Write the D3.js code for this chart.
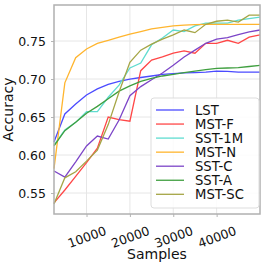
<!DOCTYPE html>
<html>
<head>
<meta charset="utf-8">
<script src="https://cdn.jsdelivr.net/npm/d3@7"></script>
<style>
body { margin: 0; background: #fff; }
text { font-family: "DejaVu Sans", sans-serif; }
</style>
</head>
<body>
<div id="chart"></div>
<script>
// data
var samples = [2500, 5000, 7500, 10000, 12500, 15000, 17500, 20000, 22500, 25000,
               27500, 30000, 32500, 35000, 37500, 40000, 42500, 45000, 47500, 50000];
var seriesNames = ["LST", "MST-F", "SST-1M", "MST-N", "SST-C", "SST-A", "MST-SC"];
var lst   = [0.617, 0.654, 0.667, 0.679, 0.687, 0.693, 0.697, 0.700, 0.702, 0.704, 0.706, 0.707, 0.708, 0.7085, 0.709, 0.7105, 0.710, 0.709, 0.709, 0.709];
var mstF  = [0.537, 0.554, 0.572, 0.590, 0.609, 0.650, 0.6465, 0.6445, 0.711, 0.725, 0.729, 0.734, 0.737, 0.734, 0.747, 0.747, 0.751, 0.747, 0.755, 0.758];
var sst1M = [0.613, 0.633, 0.643, 0.657, 0.657, 0.676, 0.692, 0.7145, 0.721, 0.745, 0.754, 0.7645, 0.7625, 0.770, 0.7735, 0.7735, 0.7735, 0.7775, 0.7795, 0.7815];
var mstN  = [0.582, 0.695, 0.728, 0.7395, 0.747, 0.751, 0.755, 0.759, 0.7625, 0.766, 0.768, 0.770, 0.771, 0.7715, 0.772, 0.772, 0.772, 0.772, 0.772, 0.772];
var sstC  = [0.579, 0.571, 0.591, 0.612, 0.625, 0.621, 0.646, 0.678, 0.690, 0.699, 0.708, 0.718, 0.729, 0.738, 0.747, 0.7525, 0.7545, 0.7585, 0.762, 0.7645];
var sstA  = [0.612, 0.632, 0.643, 0.655, 0.664, 0.674, 0.684, 0.691, 0.697, 0.701, 0.704, 0.706, 0.7085, 0.7105, 0.7125, 0.714, 0.7145, 0.715, 0.7165, 0.718];
var mstSC = [0.5355, 0.570, 0.578, 0.592, 0.6065, 0.640, 0.683, 0.722, 0.738, 0.746, 0.7525, 0.758, 0.7645, 0.761, 0.772, 0.776, 0.7775, 0.775, 0.784, 0.784];
var xTicks = [10000, 20000, 30000, 40000];
var yTicks = [0.55, 0.60, 0.65, 0.70, 0.75];

var seriesValues = [lst, mstF, sst1M, mstN, sstC, sstA, mstSC];
var colors = ["#4b4bff", "#ff4747", "#5fdcd0", "#ffb52e", "#7c45c8", "#3f9f3f", "#a5a545"];

var margin = {top: 5, right: 6, bottom: 52, left: 54},
    width = 266 - margin.left - margin.right,
    height = 266 - margin.top - margin.bottom;

var svg = d3.select("#chart")
    .append("svg")
    .attr("width", 266)
    .attr("height", 266)
    .append("g")
    .attr("transform", "translate(" + margin.left + "," + margin.top + ")");

var x = d3.scaleLinear()
    .domain([2500, 50000])
    .range([0, width]);

var y = d3.scaleLinear()
    .domain([0.5224, 0.7974])
    .range([height, 0]);

// grid
svg.append("g")
    .selectAll("line")
    .data(xTicks)
    .join("line")
    .attr("x1", d => x(d)).attr("x2", d => x(d))
    .attr("y1", 0).attr("y2", height)
    .attr("stroke", "#e6e6e6").attr("stroke-width", 1);
svg.append("g")
    .selectAll("line")
    .data(yTicks)
    .join("line")
    .attr("x1", 0).attr("x2", width)
    .attr("y1", d => y(d)).attr("y2", d => y(d))
    .attr("stroke", "#e6e6e6").attr("stroke-width", 1);

// lines
var line = d3.line()
    .x((d, i) => x(samples[i]))
    .y(d => y(d));

svg.append("g")
    .selectAll("path")
    .data(seriesValues)
    .join("path")
    .attr("d", d => line(d))
    .attr("fill", "none")
    .attr("stroke", (d, i) => colors[i])
    .attr("stroke-width", 1.3);

// axes
var xAxisG = svg.append("g")
    .attr("transform", "translate(0," + height + ")")
    .call(d3.axisBottom(x).tickValues(xTicks).tickFormat(d3.format("d")).tickSize(3));
xAxisG.selectAll("text")
    .attr("y", 0)
    .attr("dy", "0.35em")
    .attr("transform", "translate(0,23) rotate(-20)")
    .style("text-anchor", "middle")
    .attr("fill", "#111")
    .attr("font-size", 12.5);

var yAxisG = svg.append("g")
    .call(d3.axisLeft(y).tickValues(yTicks).tickFormat(d3.format(".2f")).tickSize(3));
yAxisG.selectAll("text")
    .attr("fill", "#111")
    .attr("font-size", 12.5)
    .attr("x", -8);

svg.selectAll(".tick line").attr("stroke", "#b5b5b5");
svg.selectAll(".domain").remove();

// frame
svg.append("rect")
    .attr("x", 0).attr("y", 0)
    .attr("width", width).attr("height", height)
    .attr("fill", "none")
    .attr("stroke", "#b0b0b0")
    .attr("stroke-width", 1.5);

// axis titles
svg.append("text")
    .attr("x", width / 2)
    .attr("y", height + 45)
    .attr("text-anchor", "middle")
    .attr("font-size", 14)
    .attr("fill", "#111")
    .text("Samples");

svg.append("text")
    .attr("transform", "rotate(-90)")
    .attr("x", -height / 2)
    .attr("y", -41)
    .attr("text-anchor", "middle")
    .attr("font-size", 14)
    .attr("fill", "#111")
    .text("Accuracy");

// legend
var legend = svg.append("g")
    .attr("transform", "translate(" + (151 - margin.left) + "," + (98 - margin.top) + ")");
legend.append("rect")
    .attr("width", 108).attr("height", 110)
    .attr("rx", 3)
    .attr("fill", "#fff").attr("fill-opacity", 0.85)
    .attr("stroke", "#dddddd");
var rows = legend.selectAll("g.row")
    .data(seriesNames)
    .join("g")
    .attr("class", "row")
    .attr("transform", (d, i) => "translate(0," + (12 + i * 14.05) + ")");
rows.append("line")
    .attr("x1", 5).attr("x2", 33)
    .attr("stroke", (d, i) => colors[i])
    .attr("stroke-width", 1.3);
rows.append("text")
    .attr("x", 44)
    .attr("dy", "0.35em")
    .attr("font-size", 13.2)
    .attr("fill", "#111")
    .text(d => d);
</script>
</body>
</html>
